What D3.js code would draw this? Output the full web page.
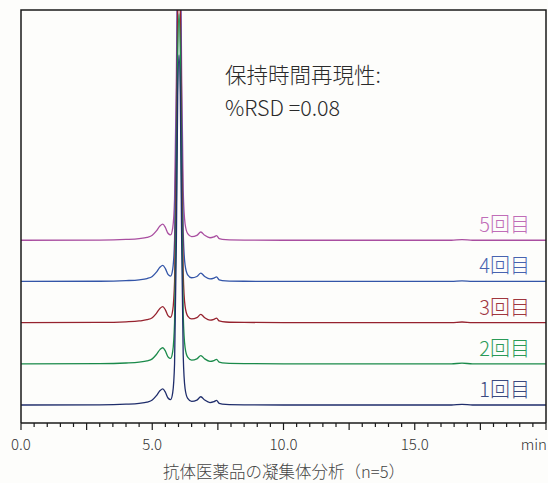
<!DOCTYPE html>
<html>
<head>
<meta charset="utf-8">
<script src="https://cdn.jsdelivr.net/npm/d3@7"></script>
<style>
  html, body { margin: 0; padding: 0; background: #fdfdfb; }
  svg { display: block; font-family: "Noto Sans CJK JP", "Noto Sans", sans-serif; font-weight: 300; }
</style>
</head>
<body>
<script>
// retention time (min) and detector response (relative to baseline)
const times = [0.0, 3.0, 4.0, 4.5, 4.8, 5.0, 5.15, 5.3, 5.4, 5.5, 5.6, 5.7, 5.78, 5.85, 5.92, 5.97, 6.02,
  6.07, 6.12, 6.18, 6.25, 6.35, 6.5, 6.7, 6.85, 7.0, 7.2, 7.35, 7.45, 7.55, 7.8, 8.5, 10.0, 16.4, 16.8, 17.2, 20.0];
const response = [0.0, 0.05, 0.2, 0.4, 0.7, 1.2, 2.2, 3.5, 3.9, 3.1, 1.7, 1.3, 3.0, 10, 40, 75, 85,
  75, 40, 12, 4.0, 1.6, 0.9, 1.2, 2.0, 1.2, 0.6, 0.8, 1.1, 0.4, 0.15, 0.05, 0.0, 0.0, 0.15, 0.0, 0.0];

const runs = ['1回目', '2回目', '3回目', '4回目', '5回目'];
const offsets = [0, 10, 20, 30, 40];
const lineColors = ['#1f2d6b', '#1a8a4a', '#96222e', '#3355a8', '#a94ea0'];
const labelColors = ['#3b4a80', '#2a9a58', '#a0363e', '#4763b0', '#c06db8'];

const xTicksMajor = [0, 5, 10, 15];
const note = ['保持時間再現性:', '%RSD =0.08'];
const title = '抗体医薬品の凝集体分析（n=5）';

const W = 548, H = 483;
const mLeft = 21, mRight = 546, mTop = 10, mBottom = 423;

const x = d3.scaleLinear().domain([0, 20]).range([mLeft, mRight]);
const y = d3.scaleLinear().domain([-4.37, 95.9]).range([mBottom, mTop]);

const svg = d3.select('body').append('svg')
  .attr('width', W).attr('height', H);

svg.append('clipPath').attr('id', 'plot')
  .append('rect').attr('x', mLeft).attr('y', mTop)
  .attr('width', mRight - mLeft).attr('height', mBottom - mTop);

const line = d3.line()
  .x((d) => x(d[0]))
  .y((d) => y(d[1]))
  .curve(d3.curveMonotoneX);

const traces = svg.append('g').attr('clip-path', 'url(#plot)');

// draw top run first so run 1 sits in front
runs.map((r, i) => i).reverse().forEach((i) => {
  const pts = times.map((t, k) => [t, response[k] + offsets[i]]);
  traces.append('path')
    .datum(pts)
    .attr('d', line)
    .attr('fill', 'none')
    .attr('stroke', lineColors[i])
    .attr('stroke-width', 1.3);
});

// run labels
runs.forEach((r, i) => {
  svg.append('text')
    .attr('x', 530)
    .attr('y', y(offsets[i]) - 8)
    .attr('text-anchor', 'end')
    .attr('font-size', 20)
    .attr('fill', labelColors[i])
    .text(r);
});

// frame
svg.append('path')
  .attr('d', `M${mLeft},${mBottom}V${mTop}H${mRight}V${mBottom}`)
  .attr('fill', 'none')
  .attr('stroke', '#1a1a1a')
  .attr('stroke-width', 1.5);

// bottom axis with minor ticks
const axis = svg.append('g').attr('transform', `translate(0,${mBottom})`);
axis.append('line')
  .attr('x1', mLeft).attr('x2', mRight)
  .attr('stroke', '#1a1a1a').attr('stroke-width', 1.5);

const minor = d3.range(0, 20.01, 0.5);
axis.selectAll('.tick')
  .data(minor)
  .enter().append('line')
  .attr('x1', (d) => x(d)).attr('x2', (d) => x(d))
  .attr('y1', 0)
  .attr('y2', (d) => (d % 2.5 === 0 ? 7 : 4))
  .attr('stroke', '#1a1a1a')
  .attr('stroke-width', 1.2);

axis.selectAll('.lbl')
  .data(xTicksMajor)
  .enter().append('text')
  .attr('x', (d) => x(d))
  .attr('y', 27)
  .attr('text-anchor', 'middle')
  .attr('font-size', 15)
  .attr('fill', '#333')
  .text((d) => d.toFixed(1));

axis.append('text')
  .attr('x', 547).attr('y', 27)
  .attr('text-anchor', 'end')
  .attr('font-size', 15)
  .attr('fill', '#333')
  .text('min');

svg.append('text')
  .attr('x', 284).attr('y', 478)
  .attr('text-anchor', 'middle')
  .attr('font-size', 16.5)
  .attr('fill', '#444')
  .text(title);

svg.selectAll('.note')
  .data(note)
  .enter().append('text')
  .attr('x', 225)
  .attr('y', (d, i) => 83 + i * 33)
  .attr('font-size', 21.5)
  .attr('fill', '#2a2a2a')
  .text((d) => d);
</script>
</body>
</html>
